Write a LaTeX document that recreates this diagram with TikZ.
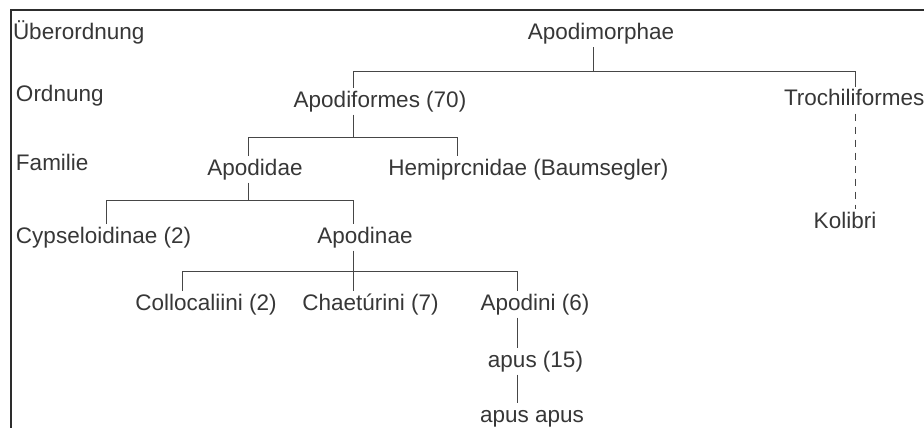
\documentclass[tikz,border=0pt]{standalone}
\usepackage{fontspec}
\setmainfont{Liberation Sans}
\definecolor{txt}{RGB}{55,55,55}
\definecolor{frm}{RGB}{45,45,45}
\definecolor{ln}{RGB}{70,70,70}
\begin{document}
\begin{tikzpicture}[x=1pt,y=-1pt,
  lbl/.style={font=\fontsize{22.5}{27}\selectfont, text=txt, inner sep=0pt, outer sep=2pt,
              text height=17pt, text depth=5.5pt},
  tax/.style={lbl, anchor=base},
  lvl/.style={lbl, anchor=base west},
  link/.style={draw=ln, line width=1pt},
  dlink/.style={link, dash pattern=on 7pt off 6pt},
  frame/.style={draw=frm, line width=2pt}]
\useasboundingbox (0,0) rectangle (924,428);
\fill[white] (0,0) rectangle (924,428);
% frame (top and left edges)
\draw[frame] (10.5,428) -- (10.5,10.5) -- (924,10.5);

% level labels
\node[lvl] (uo) at (11,40) {Überordnung};
\node[lvl] (ord) at (14,102) {Ordnung};
\node[lvl] (fam) at (14,170) {Familie};

% taxa
\node[tax] (apm) at (601,40) {Apodimorphae};
\node[tax] (apf) at (380,107) {Apodiformes (70)};
\node[lvl] (tro) at (782,106) {Trochiliformes};
\node[tax] (apd) at (255,175) {Apodidae};
\node[tax] (hem) at (528.5,175) {Hemiprcnidae (Baumsegler)};
\node[lvl] (cyp) at (14,243) {Cypseloidinae (2)};
\node[tax] (apn) at (365,243) {Apodinae};
\node[tax] (col) at (206,310) {Collocaliini (2)};
\node[tax] (cha) at (370.5,310) {Chaetúrini (7)};
\node[tax] (api) at (535,310) {Apodini (6)};
\node[tax] (apu) at (535.5,367) {apus (15)};
\node[tax] (aa) at (532,422) {apus apus};
\node[tax] (kol) at (845,228) {Kolibri};

% junction coordinates
\coordinate (b1) at (593,72);
\coordinate (b1l) at (353,72);
\coordinate (b1r) at (855,72);
\coordinate (b2) at (353,137);
\coordinate (b2l) at (248,137);
\coordinate (b2r) at (457,137);
\coordinate (b3) at (248,200);
\coordinate (b3l) at (106,200);
\coordinate (b3r) at (353,200);
\coordinate (b4) at (353,271);
\coordinate (b4l) at (182,271);
\coordinate (b4r) at (517,271);
\coordinate (ax) at (517,0);

% connectors
\draw[link] (apm.south -| b1) -- (b1);
\draw[link] (apf.north -| b1l) -- (b1l) -- (b1r) -- (tro.north -| b1r);
\draw[dlink] (tro.south -| b1r) -- (kol.north -| b1r);

\draw[link] (apf.south -| b2) -- (b2);
\draw[link] (apd.north -| b2l) -- (b2l) -- (b2r) -- (hem.north -| b2r);

\draw[link] (apd.south -| b3) -- (b3);
\draw[link] (cyp.north -| b3l) -- (b3l) -- (b3r) -- (apn.north -| b3r);

\draw[link] (apn.south -| b4) -- (b4);
\draw[link] (col.north -| b4l) -- (b4l) -- (b4r) -- (api.north -| b4r);
\draw[link] (b4) -- (cha.north -| b4);

\draw[link] (api.south -| ax) -- (apu.north -| ax);
\draw[link] (apu.south -| ax) -- (aa.north -| ax);
\end{tikzpicture}
\end{document}
